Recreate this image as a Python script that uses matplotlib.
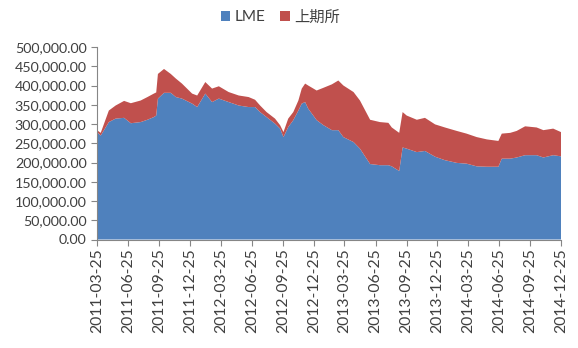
import matplotlib
matplotlib.use("Agg")
import matplotlib.pyplot as plt
from matplotlib.ticker import FuncFormatter
import numpy as np
import datetime as dt

plt.rcParams['font.family'] = ['Lato', 'Noto Sans CJK SC', 'DejaVu Sans']

# weekly-ish readings of the stocks, thousand tonnes
dates = ['2011-03-25', '2011-04-05', '2011-04-29', '2011-05-19', '2011-06-13',
         '2011-07-03', '2011-08-01', '2011-08-21', '2011-09-09', '2011-09-16',
         '2011-09-21', '2011-10-09', '2011-10-29', '2011-11-13', '2011-12-01',
         '2011-12-31', '2012-01-15', '2012-02-08', '2012-02-28', '2012-03-19',
         '2012-04-17', '2012-05-17', '2012-06-15', '2012-07-04', '2012-07-19',
         '2012-08-07', '2012-09-01', '2012-09-16', '2012-09-26', '2012-10-10',
         '2012-10-25', '2012-11-09', '2012-11-19', '2012-11-29', '2012-12-08',
         '2013-01-02', '2013-01-22', '2013-02-16', '2013-03-07', '2013-03-22',
         '2013-04-21', '2013-05-10', '2013-06-09', '2013-07-08', '2013-08-02',
         '2013-08-12', '2013-09-03', '2013-09-13', '2013-09-25', '2013-10-25',
         '2013-11-18', '2013-12-18', '2014-01-16', '2014-02-20', '2014-03-21',
         '2014-04-20', '2014-05-20', '2014-06-23', '2014-07-03', '2014-07-28',
         '2014-08-16', '2014-09-10', '2014-10-14', '2014-11-03', '2014-12-02',
         '2014-12-25']
total = [284, 277, 335, 348, 360, 354, 361, 370, 379, 382,
         430, 443, 430, 418, 405, 379, 374, 409, 392, 398,
         383, 374, 370, 363, 348, 331, 314, 297, 279, 314,
         331, 361, 392, 405, 400, 387, 394, 403, 413, 400,
         383, 361, 311, 305, 303, 291, 277, 331, 322, 311,
         316, 299, 291, 282, 275, 266, 260, 256, 275, 277,
         282, 294, 291, 284, 288, 279]
lme = [279, 270, 305, 314, 316, 302, 305, 311, 318, 322,
       366, 381, 381, 370, 366, 353, 344, 379, 357, 366,
       357, 348, 344, 344, 331, 318, 301, 288, 266, 292,
       310, 335, 353, 357, 340, 310, 297, 284, 284, 266,
       253, 236, 196, 193, 193, 190, 178, 239, 236, 227,
       230, 215, 206, 199, 197, 190, 189, 189, 210, 210,
       213, 219, 219, 213, 219, 216]
tick_dates = ['2011-03-25', '2011-06-25', '2011-09-25', '2011-12-25',
              '2012-03-25', '2012-06-25', '2012-09-25', '2012-12-25',
              '2013-03-25', '2013-06-25', '2013-09-25', '2013-12-25',
              '2014-03-25', '2014-06-25', '2014-09-25', '2014-12-25']

x = [dt.datetime.strptime(d, '%Y-%m-%d') for d in dates]
lme_t = np.array(lme) * 1000.0
shfe_t = (np.array(total) - np.array(lme)) * 1000.0

fig = plt.figure(figsize=(5.78, 3.48), dpi=100)
ax = fig.add_axes([97 / 578, 1 - 239.5 / 348, (561 - 97) / 578, (239.5 - 47) / 348])

ax.stackplot(x, lme_t, shfe_t, colors=['#4F81BD', '#C0504D'],
             labels=['LME', '上期所'], linewidth=0)

ax.set_ylim(0, 500000)
ax.set_yticks(np.arange(0, 500001, 50000))
ax.yaxis.set_major_formatter(FuncFormatter(lambda v, p: '{:,.2f}'.format(v)))

ticks = [dt.datetime.strptime(d, '%Y-%m-%d') for d in tick_dates]
ax.set_xlim(ticks[0], ticks[-1])
ax.set_xticks(ticks)
ax.set_xticklabels(tick_dates, rotation=90)

for s in ['top', 'right']:
    ax.spines[s].set_visible(False)
for s in ['left', 'bottom']:
    ax.spines[s].set_color('#868686')
ax.tick_params(axis='both', colors='#868686', labelcolor='#404040',
               length=4, direction='out')
ax.tick_params(axis='y', labelsize=10.3)
ax.tick_params(axis='x', labelsize=11.3, pad=2)

leg = fig.legend(loc='upper center', bbox_to_anchor=(0.485, 1.01), ncol=2,
                 frameon=False, fontsize=11, handlelength=0.6, handleheight=0.6,
                 handletextpad=0.3, columnspacing=1.0)
for t in leg.get_texts():
    t.set_color('#404040')

fig.savefig('out.png', dpi=100)
